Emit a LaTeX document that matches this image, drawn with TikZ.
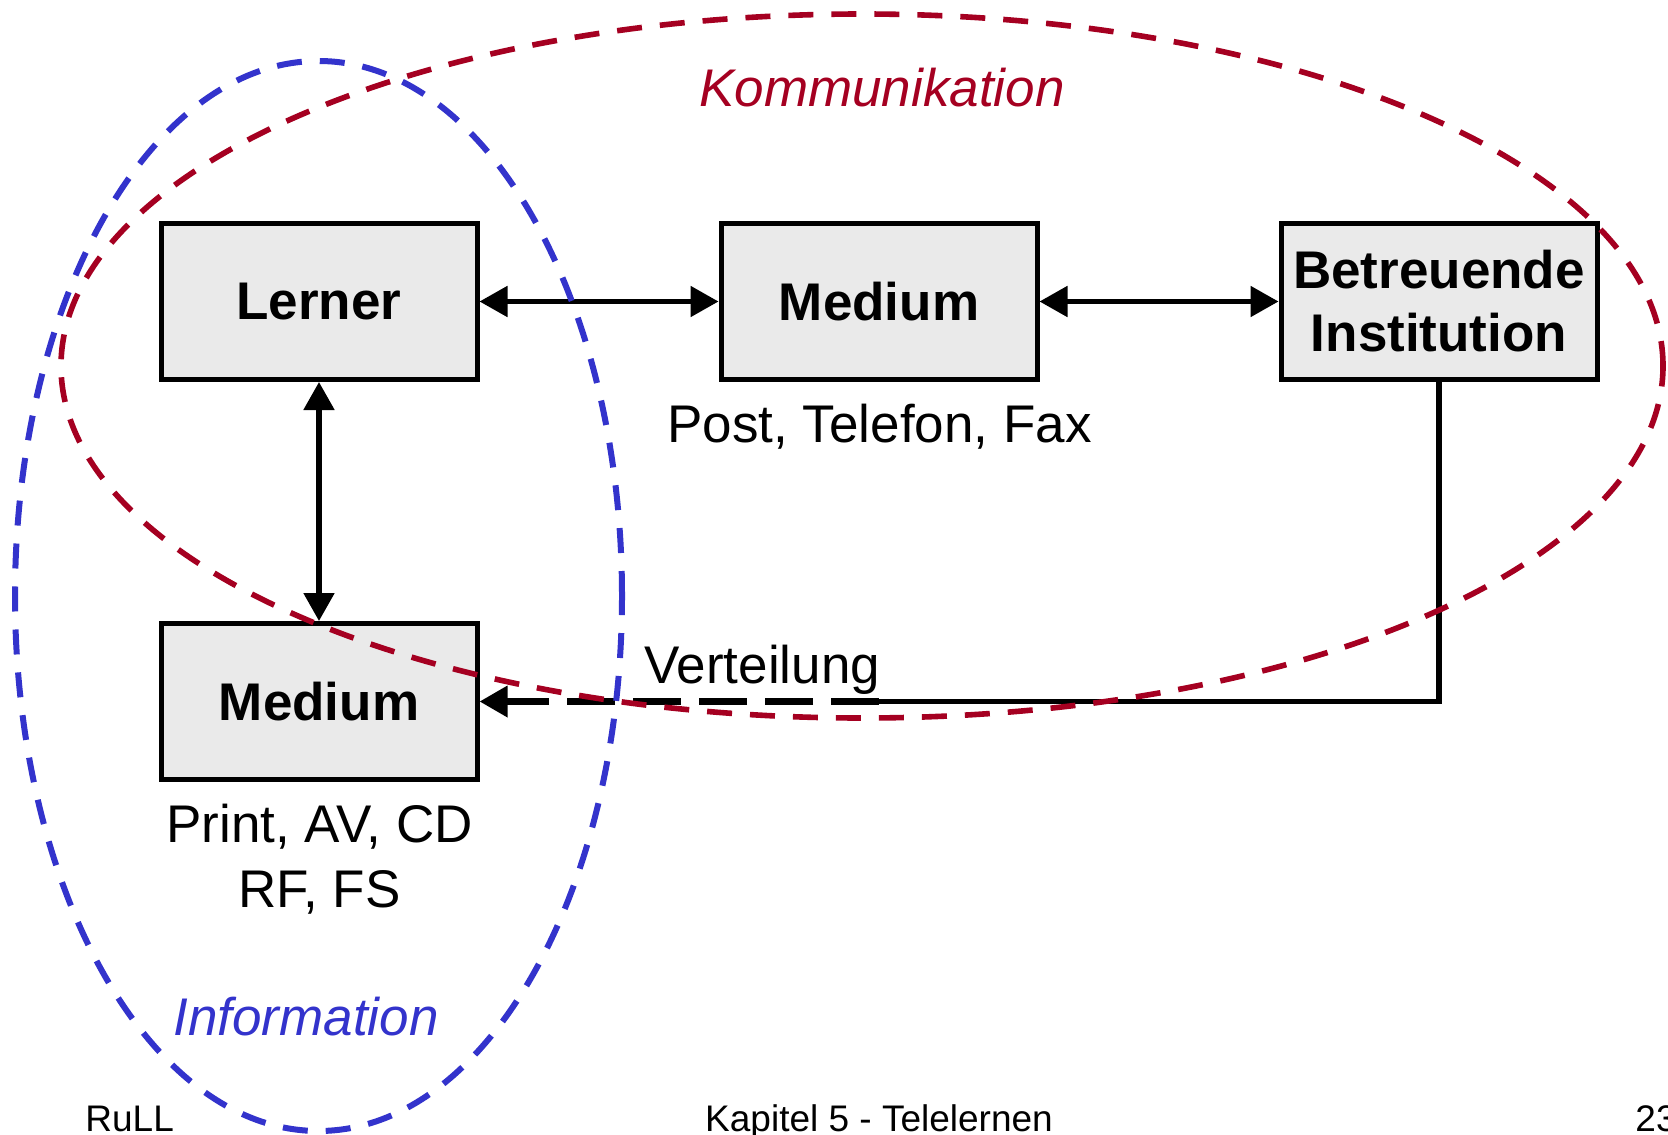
\documentclass[tikz,border=0pt]{standalone}
\usepackage{fontspec}
\setmainfont{Liberation Sans}
\usetikzlibrary{arrows.meta}
\definecolor{kred}{HTML}{A50021}
\definecolor{iblue}{HTML}{3333CC}
\definecolor{boxgray}{HTML}{EAEAEA}
\begin{document}
\begin{tikzpicture}[x=0.5pt,y=-0.5pt,
  >={Triangle[length=14pt,width=15pt]},
  box/.style={draw=black, fill=boxgray, line width=2.5pt, minimum width=158pt,
    minimum height=78pt, inner sep=0pt, align=center,
    font=\fontsize{26.5}{31.5}\selectfont\bfseries},
  lbl/.style={inner sep=0pt, anchor=base, font=\fontsize{26.5}{31.5}\selectfont},
  foot/.style={inner sep=0pt, anchor=base, font=\fontsize{18.5}{22}\selectfont},
  conn/.style={line width=2.6pt},
  dashconn/.style={line width=3.3pt, dash pattern=on 24pt off 9pt},
  kregion/.style={draw=kred, line width=2.8pt, dash pattern=on 12.5pt off 9pt},
  iregion/.style={draw=iblue, line width=3pt, dash pattern=on 12.5pt off 9pt}]
\path[fill=white, use as bounding box] (0,0) rectangle (1668,1134);

% boxes
\node[box] (lerner) at (319,301.5) {Lerner};
\node[box] (medium1) at (879,301.5) {Medium};
\node[box] (betr) at (1439,301.5) {Betreuende\\Institution};
\node[box] (medium2) at (319,701.5) {Medium};

% labels
\node[lbl] (post) at (879.5,442) {Post, Telefon, Fax};
\node[lbl] (print) at (319.5,842.5) {Print, AV, CD};
\node[lbl] (rffs) at (319.5,907) {RF, FS};
\node[lbl, anchor=base west] (vert) at (644,683) {Verteilung};
\node[lbl, text=kred, font=\fontsize{26.5}{31.5}\selectfont\itshape] (komm) at (882,106.5) {Kommunikation};
\node[lbl, text=iblue, font=\fontsize{26.5}{31.5}\selectfont\itshape] (info) at (306,1035) {Information};

% footer
\node[foot, anchor=base west] (rull) at (85,1131) {RuLL};
\node[foot] (kap) at (879,1131) {Kapitel 5 - Telelernen};
\node[foot, anchor=base west] (page) at (1635,1131) {23};

% connectors
\draw[conn, <->] (lerner) -- (medium1);
\draw[conn, <->] (medium1) -- (betr);
\draw[conn, <->] (lerner) -- (medium2);
\coordinate (v) at (879,701.5);
\draw[conn] (betr.south) |- (v);
\draw[dashconn, ->] (v) -- (medium2.east);

% regions
\draw[kregion] (862,366) ellipse [x radius=400.5pt, y radius=176pt];
\draw[iregion] (318.5,596) ellipse [x radius=151.75pt, y radius=267.5pt];
\end{tikzpicture}
\end{document}
